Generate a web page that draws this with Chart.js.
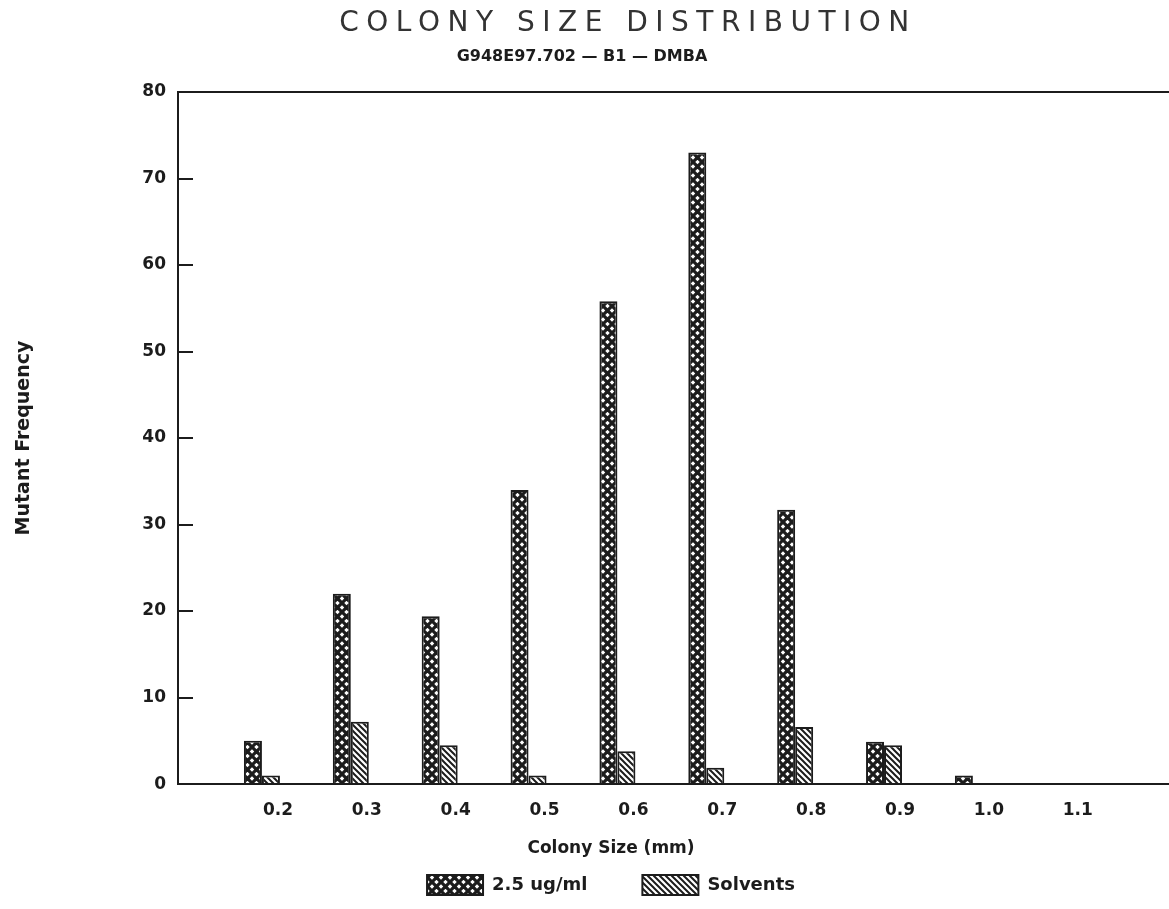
<!DOCTYPE html>
<html>
<head>
<meta charset="utf-8">
<title>Colony Size Distribution</title>
<script src="https://cdn.jsdelivr.net/npm/chart.js@4.4.0/dist/chart.umd.min.js"></script>
<style>
  html, body { margin: 0; padding: 0; background: #fff; overflow: hidden; }
</style>
</head>
<body>
<canvas id="colony" width="1222" height="909"></canvas>
<script>
// colony sizes (mm) and mutant frequency per group
var sizes = [0.2, 0.3, 0.4, 0.5, 0.6, 0.7, 0.8, 0.9, 1.0, 1.1];
var sizeLabels = ["0.2", "0.3", "0.4", "0.5", "0.6", "0.7", "0.8", "0.9", "1.0", "1.1"];
var treated = [5, 22, 19.4, 34, 55.8, 73, 31.7, 4.9, 1, 0];
var solvents = [1, 7.2, 4.5, 1, 3.8, 1.9, 6.6, 4.5, 0, 0];
var freqTicks = [0, 10, 20, 30, 40, 50, 60, 70, 80];

var ink = "#1c1c1c";
var font = "'DejaVu Sans', sans-serif";

var ctx = document.getElementById("colony").getContext("2d");

function crossHatch() {
  var c = document.createElement("canvas");
  c.width = 9;
  c.height = 9;
  var g = c.getContext("2d");
  g.fillStyle = "#fff";
  g.fillRect(0, 0, 9, 9);
  g.strokeStyle = ink;
  g.lineWidth = 3.2;
  g.beginPath();
  g.moveTo(0, 0);
  g.lineTo(9, 9);
  g.moveTo(9, 0);
  g.lineTo(0, 9);
  g.stroke();
  return ctx.createPattern(c, "repeat");
}

function diagonal() {
  var c = document.createElement("canvas");
  c.width = 6;
  c.height = 6;
  var g = c.getContext("2d");
  g.fillStyle = "#fff";
  g.fillRect(0, 0, 6, 6);
  g.strokeStyle = ink;
  g.lineWidth = 2;
  g.beginPath();
  g.moveTo(-1, -1);
  g.lineTo(7, 7);
  g.moveTo(-1, 5);
  g.lineTo(1, 7);
  g.moveTo(5, -1);
  g.lineTo(7, 1);
  g.stroke();
  return ctx.createPattern(c, "repeat");
}

function points(values) {
  return sizes.map(function(s, i) {
    return { x: s, y: values[i] };
  });
}

// title and code line are spaced out like the plotter lettering
var headings = {
  id: "headings",
  afterDraw: function(chart) {
    var c = chart.ctx;
    c.save();
    c.fillStyle = "#333";
    c.textAlign = "center";
    c.textBaseline = "middle";
    c.font = "normal 28px " + font;
    c.letterSpacing = "7.5px";
    c.fillText("COLONY SIZE DISTRIBUTION", 628, 24);
    c.letterSpacing = "0px";
    c.fillStyle = ink;
    c.font = "bold 16px " + font;
    c.fillText("G948E97.702 \u2014 B1 \u2014 DMBA", 582, 57);
    c.restore();
  }
};

var xMin = 0.1055;
var xMax = 1.2803;

var chart = new Chart(ctx, {
  type: "bar",
  data: {
    datasets: [
      {
        label: "2.5 ug/ml",
        data: points(treated),
        backgroundColor: crossHatch(),
        borderColor: ink,
        borderWidth: 2,
        categoryPercentage: 0.405,
        barPercentage: 1
      },
      {
        label: "Solvents",
        data: points(solvents),
        backgroundColor: diagonal(),
        borderColor: ink,
        borderWidth: 2,
        categoryPercentage: 0.405,
        barPercentage: 1
      }
    ]
  },
  plugins: [headings],
  options: {
    responsive: false,
    animation: false,
    layout: {
      padding: { top: 92, bottom: 4, left: 0, right: 0 }
    },
    plugins: {
      tooltip: { enabled: false },
      legend: {
        position: "bottom",
        labels: {
          boxWidth: 56,
          boxHeight: 20,
          padding: 55,
          color: ink,
          font: { family: font, size: 18, weight: "bold" }
        },
        title: {
          display: true,
          text: "Colony Size (mm)",
          color: ink,
          font: { family: font, size: 17, weight: "bold", lineHeight: 1.2 },
          padding: { top: 3.5, bottom: -40.4 }
        }
      }
    },
    scales: {
      x: {
        type: "linear",
        min: xMin,
        max: xMax,
        offset: false,
        grid: { display: false, drawTicks: false, offset: false },
        border: { display: true, color: ink, width: 2 },
        afterBuildTicks: function(axis) {
          axis.ticks = sizes.map(function(v) { return { value: v }; });
        },
        ticks: {
          autoSkip: false,
          maxRotation: 0,
          padding: 16,
          labelOffset: 16,
          color: ink,
          font: { family: font, size: 17, weight: "bold" },
          callback: function(value, index) {
            return sizeLabels[index];
          }
        }
      },
      x2: {
        type: "linear",
        position: "top",
        min: xMin,
        max: xMax,
        grid: { display: false, drawTicks: false },
        border: { display: true, color: ink, width: 2 },
        ticks: { display: false }
      },
      y: {
        min: 0,
        max: 80,
        afterBuildTicks: function(axis) {
          axis.ticks = freqTicks.map(function(v) { return { value: v }; });
        },
        // short inward ticks: the grid line is dashed so only its first 14px show
        grid: { color: ink, lineWidth: 2, drawTicks: false },
        border: { display: true, color: ink, width: 2, dash: [14, 4000] },
        ticks: {
          padding: 12,
          color: ink,
          font: { family: font, size: 17, weight: "bold" }
        },
        title: {
          display: true,
          text: "Mutant Frequency",
          color: ink,
          font: { family: font, size: 19, weight: "bold", lineHeight: 1.2 },
          padding: { top: 12.6, bottom: 94.9 }
        }
      }
    }
  }
});
</script>
</body>
</html>
